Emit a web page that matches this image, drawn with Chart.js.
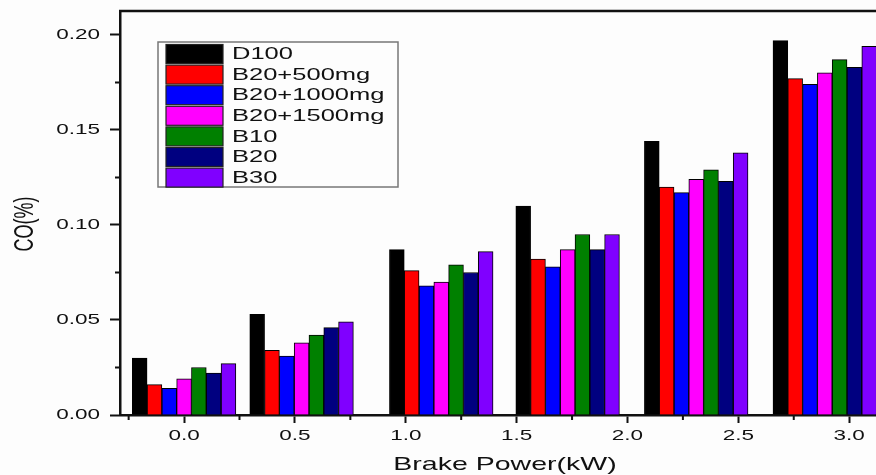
<!DOCTYPE html>
<html>
<head>
<meta charset="utf-8">
<script src="https://cdn.jsdelivr.net/npm/chart.js@4"></script>
<style>
  html, body { margin: 0; padding: 0; background: #fdfdfd; overflow: hidden; }
  #wrap { width: 890px; height: 475px; }
</style>
</head>
<body>
<div id="wrap"><canvas id="chart" width="890" height="475"></canvas></div>
<script>
// brake power of each load step (kW)
const brakePower = [0, 0.53, 1.16, 1.73, 2.31, 2.89];

const seriesNames = ["D100", "B20+500mg", "B20+1000mg", "B20+1500mg", "B10", "B20", "B30"];
const seriesColors = ["#000000", "#ff0000", "#0000ff", "#ff00ff", "#008000", "#000080", "#8000ff"];

// CO (%)
const d100      = [0.030, 0.053, 0.087, 0.110, 0.144, 0.197];
const b20_500   = [0.016, 0.034, 0.076, 0.082, 0.120, 0.177];
const b20_1000  = [0.014, 0.031, 0.068, 0.078, 0.117, 0.174];
const b20_1500  = [0.019, 0.038, 0.070, 0.087, 0.124, 0.180];
const b10       = [0.025, 0.042, 0.079, 0.095, 0.129, 0.187];
const b20       = [0.022, 0.046, 0.075, 0.087, 0.123, 0.183];
const b30       = [0.027, 0.049, 0.086, 0.095, 0.138, 0.194];

const allSeries = [d100, b20_500, b20_1000, b20_1500, b10, b20, b30];

const xTicks = [0, 0.5, 1, 1.5, 2, 2.5, 3];
const yTicks = [0, 0.05, 0.1, 0.15, 0.2];

const ink = "#111";
const font = "Arial, 'Liberation Sans', sans-serif";
const stretch = 1.5;   // the original figure's text is wide
const plainFillText = CanvasRenderingContext2D.prototype.fillText;

// draw every text horizontally widened around its anchor point
function widenText(ctx, k) {
  ctx.fillText = function (text, x, y, maxWidth) {
    this.save();
    this.translate(x, y);
    this.scale(k, 1);
    if (maxWidth === undefined) plainFillText.call(this, text, 0, 0);
    else plainFillText.call(this, text, 0, 0, maxWidth / k);
    this.restore();
  };
}

// frame, minor ticks, titles and legend
const decorPlugin = {
  id: "decor",
  afterDraw(chart) {
    const ctx = chart.ctx;
    const a = chart.chartArea;
    const xs = chart.scales.x, ys = chart.scales.y;
    ctx.save();

    // top frame line
    ctx.strokeStyle = ink;
    ctx.lineWidth = 2.5;
    ctx.beginPath();
    ctx.moveTo(a.left - 1, a.top);
    ctx.lineTo(a.right + 2, a.top);
    ctx.stroke();

    // minor ticks
    ctx.lineWidth = 2;
    ctx.beginPath();
    for (let v = -0.25; v <= xs.max; v += 0.5) {
      const px = xs.getPixelForValue(v);
      if (px < a.left) continue;
      ctx.moveTo(px, a.bottom);
      ctx.lineTo(px, a.bottom + 5);
    }
    for (let v = 0.025; v <= ys.max; v += 0.05) {
      const py = ys.getPixelForValue(v);
      ctx.moveTo(a.left, py);
      ctx.lineTo(a.left - 5, py);
    }
    ctx.stroke();

    // axis titles
    ctx.fillStyle = ink;
    ctx.textAlign = "center";
    ctx.textBaseline = "middle";
    ctx.font = "19px " + font;
    ctx.fillText("Brake Power(kW)", 505, 465);
    ctx.save();
    ctx.translate(26, 224);
    ctx.scale(stretch, 1);
    ctx.rotate(-Math.PI / 2);
    ctx.font = "18px " + font;
    plainFillText.call(ctx, "CO(%)", 0, 0);
    ctx.restore();

    // legend box
    const bx = 158, by = 42, bw = 240, bh = 145;
    ctx.fillStyle = "#fdfdfd";
    ctx.fillRect(bx, by, bw, bh);
    ctx.strokeStyle = "#777";
    ctx.lineWidth = 1.5;
    ctx.strokeRect(bx, by, bw, bh);
    ctx.font = "17px " + font;
    ctx.textAlign = "left";
    chart.data.datasets.forEach((ds, i) => {
      const top = 44.5 + i * 20.6;
      ctx.fillStyle = ds.backgroundColor;
      ctx.fillRect(166, top, 57, 19);
      ctx.strokeStyle = "#222";
      ctx.lineWidth = 1.2;
      ctx.strokeRect(166, top, 57, 19);
      ctx.fillStyle = ink;
      ctx.fillText(ds.label, 232, top + 10);
    });
    ctx.restore();
  }
};

const datasets = seriesNames.map((name, i) => ({
  label: name,
  data: brakePower.map((p, j) => ({ x: p, y: allSeries[i][j] })),
  backgroundColor: seriesColors[i],
  borderColor: "#000",
  borderWidth: 1,
  barThickness: 14.8
}));

const canvas = document.getElementById("chart");
widenText(canvas.getContext("2d"), stretch);

new Chart(canvas, {
  type: "bar",
  data: { datasets },
  options: {
    responsive: false,
    animation: false,
    layout: { padding: { top: 11, right: 10, left: 0, bottom: 0 } },
    plugins: { legend: { display: false }, tooltip: { enabled: false } },
    scales: {
      x: {
        type: "linear",
        offset: false,
        min: -0.289,
        max: 3.139,
        afterFit: s => { s.height = 60; s.paddingLeft = 0; s.paddingRight = 0; },
        afterBuildTicks: s => { s.ticks = xTicks.map(v => ({ value: v })); },
        ticks: {
          callback: v => v.toFixed(1),
          font: { size: 15, family: font },
          color: ink,
          padding: 4,
          maxRotation: 0
        },
        grid: { offset: false, drawOnChartArea: false, drawTicks: true, tickLength: 8, tickWidth: 2, tickColor: ink },
        border: { display: true, color: ink, width: 2.5 }
      },
      y: {
        min: 0,
        max: 0.2126,
        afterFit: s => { s.width = 120; s.paddingTop = 0; s.paddingBottom = 0; },
        afterBuildTicks: s => { s.ticks = yTicks.map(v => ({ value: v })); },
        ticks: {
          callback: v => v.toFixed(2),
          font: { size: 15, family: font },
          color: ink,
          padding: 10
        },
        grid: { drawOnChartArea: false, drawTicks: true, tickLength: 10, tickWidth: 2, tickColor: ink },
        border: { display: true, color: ink, width: 2.5 }
      }
    }
  },
  plugins: [decorPlugin]
});
</script>
</body>
</html>
